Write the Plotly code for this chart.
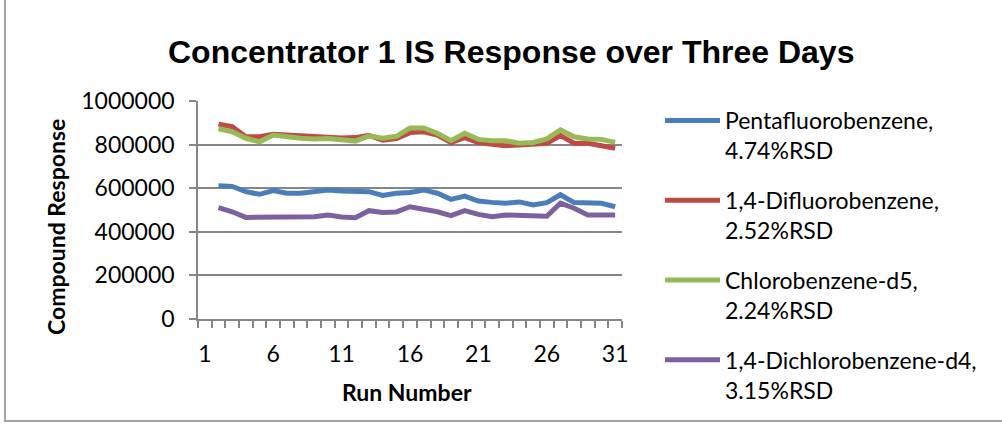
import plotly.graph_objects as go

runs = list(range(1, 32))
tick_vals = [1, 6, 11, 16, 21, 26, 31]
tick_text = ["1", "6", "11", "16", "21", "26", "31"]

pentafluorobenzene = [None, 611000, 608000, 584000, 572000, 589000, 577000, 577000, 587000, 592000, 587000,
                      584000, 584000, 567000, 577000, 580000, 592000, 577000, 549000, 564000, 541000,
                      535000, 531000, 537000, 523000, 534000, 570000, 534000, 534000, 531000, 515000]
difluorobenzene = [None, 893000, 882000, 836000, 836000, 847000, 843000, 840000, 836000, 834000, 830000,
                   832000, 842000, 820000, 828000, 855000, 859000, 844000, 810000, 832000, 809000,
                   801000, 795000, 798000, 800000, 806000, 841000, 806000, 806000, 794000, 783000]
chlorobenzene_d5 = [None, 873000, 859000, 829000, 813000, 844000, 836000, 829000, 826000, 828000, 822000,
                    816000, 840000, 829000, 838000, 876000, 876000, 852000, 818000, 852000, 824000,
                    818000, 818000, 806000, 810000, 826000, 867000, 836000, 826000, 824000, 810000]
dichlorobenzene_d4 = [None, 511000, 492000, 466000, 466000, 469000, 470000, 469000, 469000, 477000, 468000,
                      465000, 497000, 489000, 491000, 515000, 505000, 492000, 474000, 497000, 480000,
                      469000, 477000, 474000, 474000, 471000, 531000, 508000, 477000, 477000, 477000]

series = [
    ("Pentafluorobenzene,<br>4.74%RSD", pentafluorobenzene, "#4A7EBB"),
    ("1,4-Difluorobenzene,<br>2.52%RSD", difluorobenzene, "#BE4B48"),
    ("Chlorobenzene-d5,<br>2.24%RSD", chlorobenzene_d5, "#98B954"),
    ("1,4-Dichlorobenzene-d4,<br>3.15%RSD", dichlorobenzene_d4, "#7D60A0"),
]

W, H = 1002, 436
L, R, T, B = 198, 622, 101, 319


def px(x):
    return (x - L) / (R - L)


def py(y):
    return (B - y) / (B - T)


fig = go.Figure()
for i, (name, vals, col) in enumerate(series):
    fig.add_trace(go.Scatter(
        x=runs, y=vals, name=name, mode="lines",
        line=dict(color=col, width=5),
        legendgroup=f"g{i}",
    ))

grid = "#868686"
fig.update_layout(
    width=W, height=H,
    margin=dict(l=L, r=W - R, t=T, b=H - B, pad=0),
    plot_bgcolor="white", paper_bgcolor="white",
    showlegend=True,
    legend=dict(
        x=px(660), xanchor="left", y=py(99), yanchor="top",
        font=dict(family="Lato", size=23, color="#000000"),
        tracegroupgap=17, valign="top", itemwidth=55,
        bgcolor="rgba(0,0,0,0)", maxheight=420,
    ),
    xaxis=dict(
        range=[0.5, 31.5], tickmode="array", tickvals=tick_vals, ticktext=tick_text,
        ticks="", showgrid=False, zeroline=False,
        showline=True, linecolor=grid, linewidth=1.5,
        tickfont=dict(family="Lato", size=23, color="#000000"),
        ticklabelstandoff=14,
        minor=dict(tickmode="linear", tick0=0.5, dtick=1, ticks="outside", ticklen=7,
                   tickcolor=grid, tickwidth=1.5, showgrid=False),
    ),
    yaxis=dict(
        range=[0, 1000000], tickmode="array",
        tickvals=[0, 200000, 400000, 600000, 800000, 1000000],
        ticktext=["0", "200000", "400000", "600000", "800000", "1000000"],
        ticks="outside", ticklen=7, tickcolor=grid, tickwidth=1.5,
        showgrid=True, gridcolor=grid, gridwidth=1.5, zeroline=False,
        showline=True, linecolor=grid, linewidth=1.5,
        tickfont=dict(family="Lato", size=23, color="#000000"),
        ticklabelstandoff=10,
    ),
    annotations=[
        dict(text="<b>Concentrator 1 IS Response over Three Days</b>", xref="paper", yref="paper",
             x=px(511), y=py(52), xanchor="center", yanchor="middle", showarrow=False,
             font=dict(family="Liberation Sans", size=32, color="#000000")),
        dict(text="<b>Compound Response</b>", xref="paper", yref="paper",
             x=px(56), y=py(227), xanchor="center", yanchor="middle", showarrow=False, textangle=-90,
             font=dict(family="Lato", size=23, color="#000000")),
        dict(text="<b>Run Number</b>", xref="paper", yref="paper",
             x=px(407), y=py(392), xanchor="center", yanchor="middle", showarrow=False,
             font=dict(family="Lato", size=23, color="#000000")),
    ],
    shapes=[
        dict(type="rect", xref="paper", yref="paper", x0=px(5), x1=px(1012), y0=py(421), y1=py(-10),
             line=dict(color="#878787", width=1.5), fillcolor="rgba(0,0,0,0)", layer="below"),
    ],
)

fig.write_html("out.html", config={"displayModeBar": False},
               post_script="document.body.style.margin='0';")
